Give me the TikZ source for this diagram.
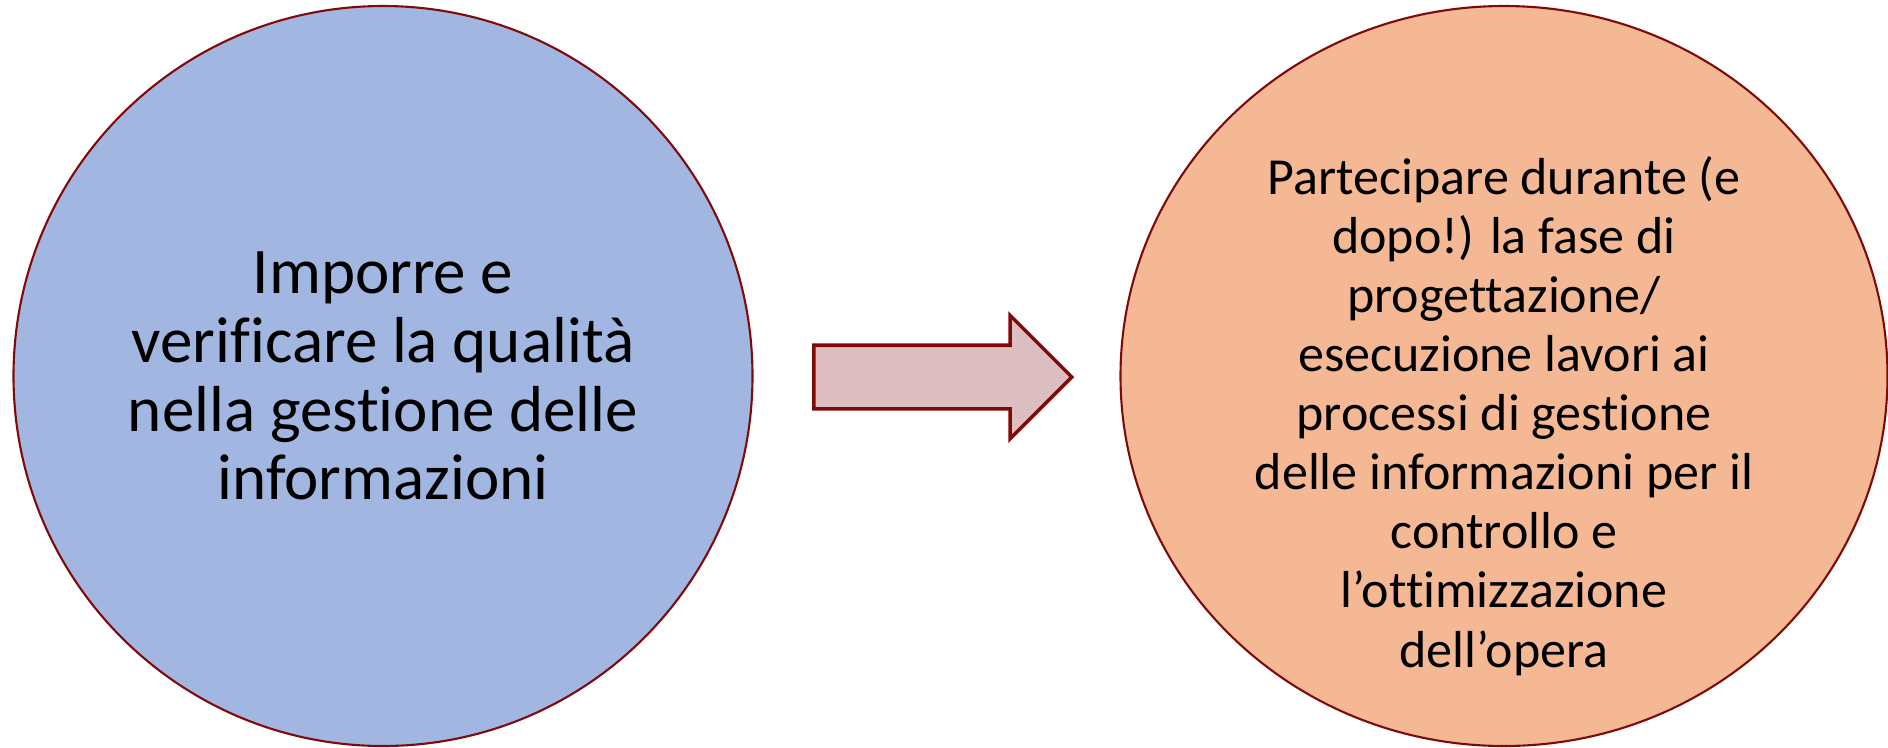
\documentclass[tikz,border=0pt]{standalone}
\usepackage{fontspec}
\setmainfont{Carlito}[RawFeature={-liga;-calt;-dlig}]
\usetikzlibrary{shapes.geometric, shapes.arrows, positioning}
\definecolor{LB}{RGB}{161,182,224}
\definecolor{LO}{RGB}{244,185,148}
\definecolor{LR}{RGB}{221,190,193}
\definecolor{DR}{RGB}{128,10,10}

\begin{document}
\begin{tikzpicture}
\useasboundingbox (0,0) rectangle (18.88,-7.47);
\tikzset{
  blob/.style={ellipse, draw=DR, line width=0.6pt, inner sep=0pt},
  txt/.style={align=center, text=black}
}
% Two circles
\node[blob, fill=LB, minimum width=7.39cm, minimum height=7.40cm] (imp) at (3.83,-3.76) {};
\node[blob, fill=LO, minimum width=7.67cm, minimum height=7.40cm] (par) at (15.04,-3.76) {};

% Block arrow between them
\node[single arrow, draw=DR, fill=LR, line width=1pt, inner xsep=0pt, inner ysep=0.3cm,
      minimum width=1.2cm, minimum height=2.58cm,
      single arrow head extend=0.3cm, single arrow tip angle=90,
      anchor=tail] (arr) at (8.12,-3.77) {};

% Labels inside
\node[txt, font=\fontsize{18.5}{19.6}\selectfont] at (imp.center)
  {Imporre e\\verificare la qualità\\nella gestione delle\\informazioni};
\node[txt, font=\fontsize{14.8}{16.8}\selectfont] at ([yshift=-0.4cm]par.center)
  {Partecipare durante (e\\dopo!) la fase di\\progettazione/\\esecuzione lavori ai\\processi di gestione\\delle informazioni per il\\controllo e\\l’ottimizzazione\\dell’opera};
\end{tikzpicture}
\end{document}
